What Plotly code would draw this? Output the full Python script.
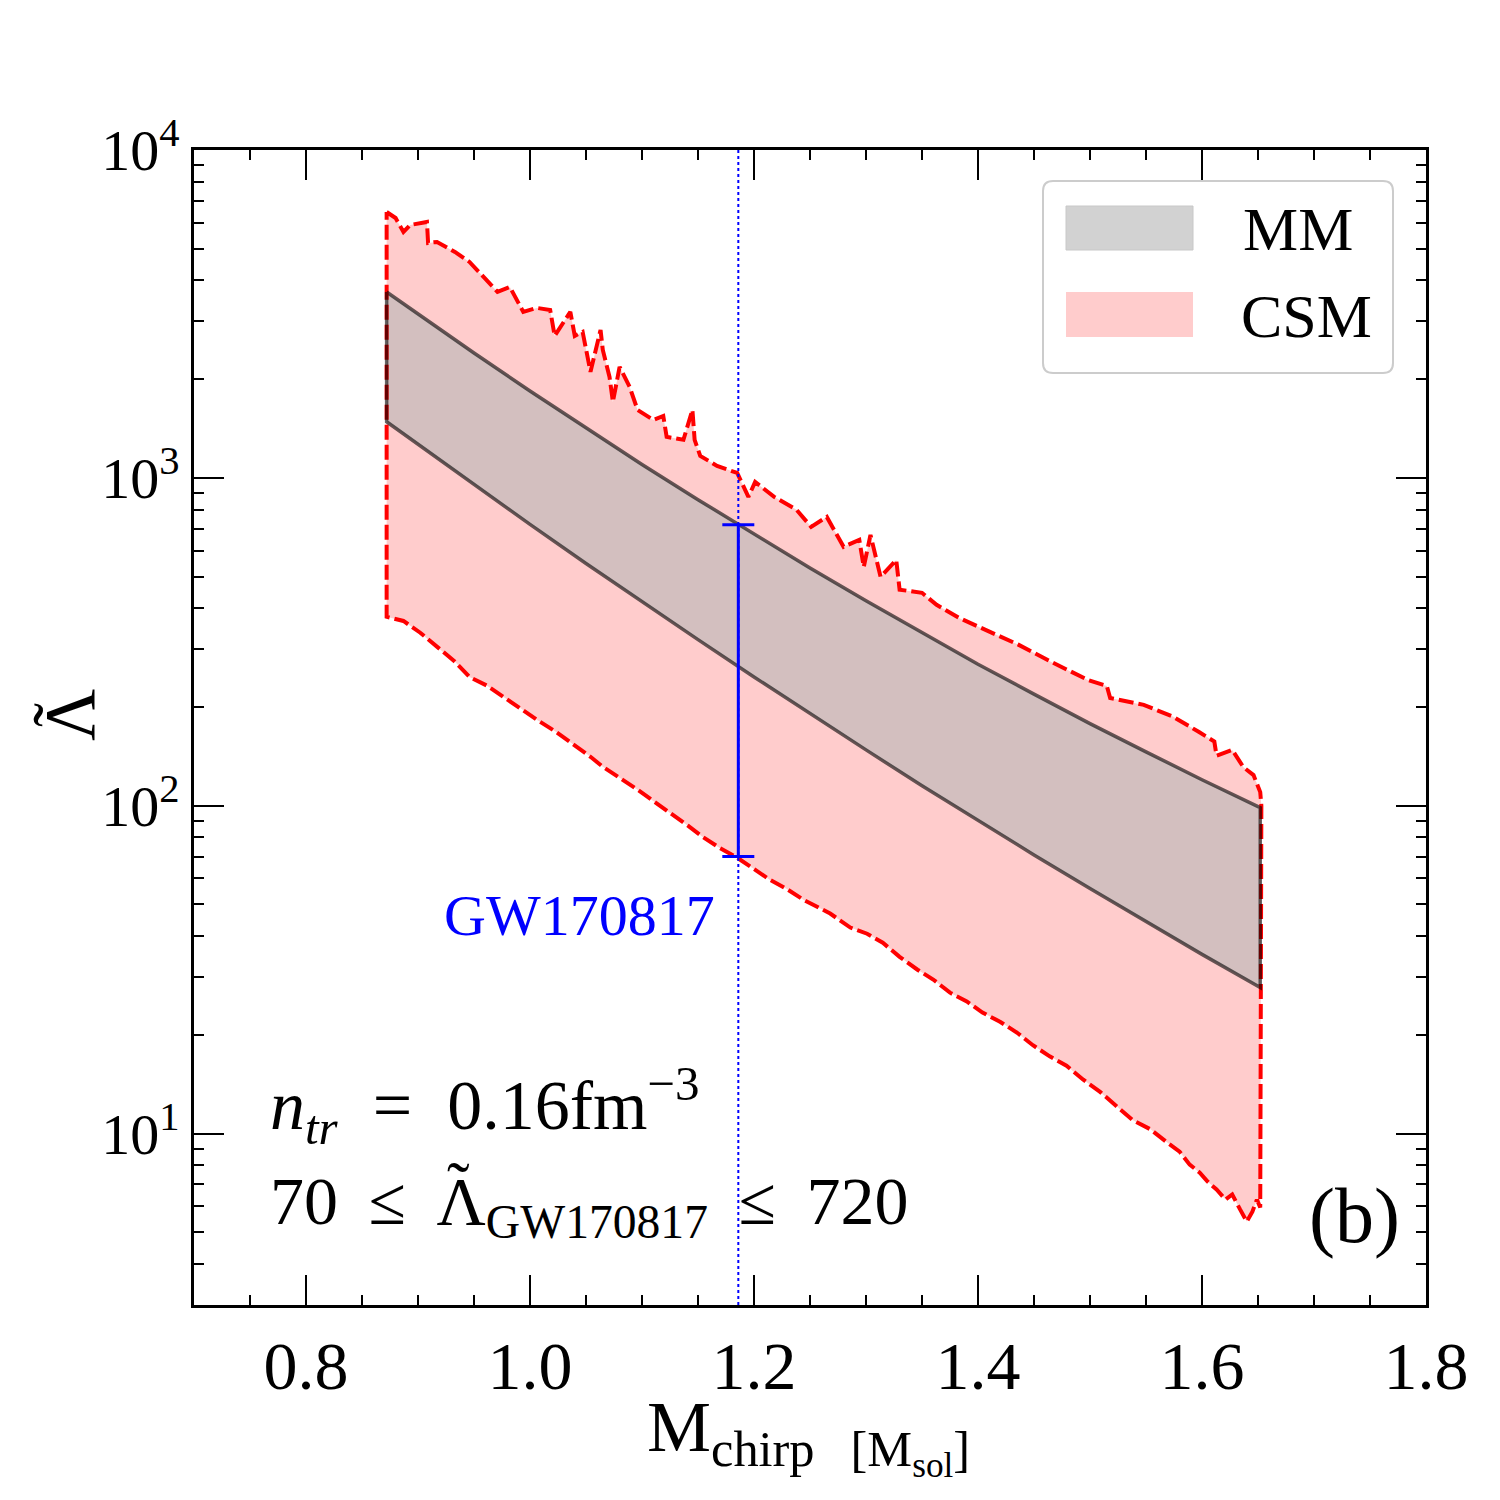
import math
import plotly.graph_objects as go

# ---------------- data ----------------
csm_upper_x = [0.872, 0.880, 0.887, 0.893, 0.908, 0.909, 0.917, 0.933, 0.946, 0.955,
               0.971, 0.982, 0.994, 1.006, 1.018, 1.022, 1.036, 1.040, 1.047, 1.054,
               1.063, 1.065, 1.071, 1.074, 1.080, 1.089, 1.096, 1.110, 1.119, 1.122,
               1.137, 1.145, 1.147, 1.152, 1.167, 1.185, 1.195, 1.201, 1.218, 1.238,
               1.251, 1.265, 1.280, 1.294, 1.298, 1.304, 1.313, 1.327, 1.330, 1.350,
               1.363, 1.383, 1.416, 1.436, 1.465, 1.498, 1.515, 1.518, 1.548, 1.574,
               1.597, 1.611, 1.613, 1.627, 1.637, 1.646, 1.652, 1.653]
csm_upper_y = [6471, 6204, 5623, 5906, 6033, 5206, 5242, 4887, 4556, 4217,
               3691, 3822, 3208, 3299, 3253, 2710, 3208, 2710, 2787, 2105,
               2826, 2456, 2032, 1705, 2180, 1894, 1612, 1502, 1545, 1334,
               1306, 1612, 1306, 1167, 1088, 1035, 875, 972, 875, 799,
               709, 760, 616, 647, 535, 670, 499, 562, 456, 446,
               410, 374, 332, 310, 275, 242, 232, 213, 203, 187,
               168, 157, 142, 148, 131, 124, 110, 100]

csm_lower_x = [0.872, 0.887, 0.902, 0.917, 0.933, 0.946, 0.962, 0.976, 0.991, 1.006,
               1.022, 1.036, 1.054, 1.065, 1.080, 1.096, 1.112, 1.125, 1.141, 1.154,
               1.169, 1.185, 1.201, 1.214, 1.229, 1.244, 1.268, 1.286, 1.301, 1.315,
               1.330, 1.346, 1.360, 1.375, 1.390, 1.404, 1.420, 1.435, 1.449, 1.464,
               1.479, 1.494, 1.509, 1.524, 1.538, 1.554, 1.569, 1.580, 1.589, 1.598,
               1.605, 1.613, 1.621, 1.627, 1.634, 1.640, 1.645, 1.649, 1.652]
csm_lower_y = [377, 366, 337, 305, 275, 247, 232, 215, 199, 183,
               169, 156, 141, 131.5, 121.7, 111.9, 102.1, 95.2, 86.9, 80.4,
               74.5, 69.4, 63.8, 59.5, 55.8, 51.7, 46.9, 42.5, 40.7, 38.2,
               34.6, 31.6, 29.5, 26.9, 25.3, 23.4, 21.9, 20.3, 18.6, 17.2,
               16.1, 14.6, 13.4, 12.1, 11.0, 10.3, 9.39, 8.81, 8.04, 7.60,
               7.14, 6.75, 6.29, 6.52, 5.87, 5.39, 5.78, 6.29, 5.95]

mm_x = [0.872, 0.95, 1.0, 1.05, 1.1, 1.15, 1.2, 1.25, 1.3, 1.35, 1.4, 1.45, 1.5, 1.55, 1.6, 1.652]
mm_upper = [3690, 2404, 1841, 1419, 1099, 858, 673, 531, 422, 337, 270, 219, 178, 146, 120, 98.6]
mm_lower = [1483, 953, 721, 548, 419, 321, 247, 191, 148, 115, 90.2, 70.8, 55.9, 44.2, 35.2, 27.9]

gw_mchirp = 1.186
gw_lambda_low = 70
gw_lambda_high = 720

x_tick_vals = [0.8, 1.0, 1.2, 1.4, 1.6, 1.8]
x_tick_text = ["0.8", "1.0", "1.2", "1.4", "1.6", "1.8"]
y_tick_vals = [10, 100, 1000, 10000]
y_tick_text = ["10<sup>1</sup>", "10<sup>2</sup>", "10<sup>3</sup>", "10<sup>4</sup>"]
y_minor_vals = [m * 10 ** k for k in range(0, 4) for m in range(2, 10) if m * 10 ** k >= 3]

legend_labels = ["MM", "CSM"]

FONT = "Liberation Serif"
ES = "\u2002"        # en space
SP = " \u2009"       # space + thin space

# ---------------- figure ----------------
W, H = 1500, 1500
ML, MR, MT, MB = 194, 74, 150, 195


def PX(x):
    return (x - ML) / (W - ML - MR)


def PY(y):
    return (H - MB - y) / (H - MT - MB)


csm_poly_x = csm_upper_x + csm_lower_x[::-1] + [csm_upper_x[0]]
csm_poly_y = csm_upper_y + csm_lower_y[::-1] + [csm_upper_y[0]]
mm_poly_x = mm_x + mm_x[::-1] + [mm_x[0]]
mm_poly_y = mm_upper + mm_lower[::-1] + [mm_upper[0]]

fig = go.Figure()

fig.add_trace(go.Scatter(x=csm_poly_x, y=csm_poly_y, mode="lines", fill="toself",
                         fillcolor="rgba(255,0,0,0.2)", line=dict(width=0),
                         hoverinfo="skip", showlegend=False))
fig.add_trace(go.Scatter(x=mm_poly_x, y=mm_poly_y, mode="lines", fill="toself",
                         fillcolor="rgba(181,181,181,0.6)", line=dict(width=0),
                         hoverinfo="skip", showlegend=False))
fig.add_trace(go.Scatter(x=csm_poly_x, y=csm_poly_y, mode="lines",
                         line=dict(color="rgb(255,0,0)", width=4, dash="15px,5px"),
                         hoverinfo="skip", showlegend=False))
fig.add_trace(go.Scatter(x=mm_poly_x, y=mm_poly_y, mode="lines",
                         line=dict(color="rgba(0,0,0,0.6)", width=3.5),
                         hoverinfo="skip", showlegend=False))

fig.add_trace(go.Scatter(x=[gw_mchirp], y=[gw_lambda_high], mode="markers",
                         marker=dict(size=1, opacity=0),
                         error_y=dict(type="data", symmetric=False, array=[0],
                                      arrayminus=[gw_lambda_high - gw_lambda_low],
                                      color="rgb(0,0,255)", thickness=3, width=16),
                         hoverinfo="skip", showlegend=False))

shapes = []
shapes.append(dict(type="line", xref="x", yref="paper", x0=gw_mchirp, x1=gw_mchirp, y0=0, y1=1,
                   line=dict(color="rgb(0,0,255)", width=2, dash="3px,3px"), layer="above"))

x0, y0, x1, y1, r = 1043, 181, 1393, 373, 10
path = (f"M {PX(x0 + r)},{PY(y0)} L {PX(x1 - r)},{PY(y0)} Q {PX(x1)},{PY(y0)} {PX(x1)},{PY(y0 + r)} "
        f"L {PX(x1)},{PY(y1 - r)} Q {PX(x1)},{PY(y1)} {PX(x1 - r)},{PY(y1)} "
        f"L {PX(x0 + r)},{PY(y1)} Q {PX(x0)},{PY(y1)} {PX(x0)},{PY(y1 - r)} "
        f"L {PX(x0)},{PY(y0 + r)} Q {PX(x0)},{PY(y0)} {PX(x0 + r)},{PY(y0)} Z")
shapes.append(dict(type="path", xref="paper", yref="paper", path=path,
                   fillcolor="rgba(255,255,255,0.8)", line=dict(color="rgb(204,204,204)", width=2),
                   layer="above"))
shapes.append(dict(type="rect", xref="paper", yref="paper", x0=PX(1066), x1=PX(1193),
                   y0=PY(250), y1=PY(206), fillcolor="rgb(210,210,210)",
                   line=dict(color="rgb(200,200,200)", width=1), layer="above"))
shapes.append(dict(type="rect", xref="paper", yref="paper", x0=PX(1066), x1=PX(1193),
                   y0=PY(337), y1=PY(292), fillcolor="rgb(255,204,204)",
                   line=dict(width=0), layer="above"))

annotations = []


def ann(text, x, y, size, xanchor="left", yanchor="middle", color="black", angle=0):
    annotations.append(dict(text=text, x=PX(x), y=PY(y), xref="paper", yref="paper",
                            xanchor=xanchor, yanchor=yanchor, showarrow=False,
                            textangle=angle, font=dict(family=FONT, size=size, color=color)))


ann(legend_labels[0], 1241, 229, 62)
ann(legend_labels[1], 1239, 316, 62)
ann("GW170817", 717, 916, 58, xanchor="right", color="rgb(0,0,255)")
ann(f"<i>n</i><sub><i>tr</i></sub>{ES}={ES}0.16fm<sup>−3</sup>", 268, 1105, 70)
ann(f"70{SP}≤{SP}Λ<sub>GW170817</sub>{SP}≤{SP}720", 268, 1205, 68)
ann("˜", 458, 1186, 68, xanchor="center")
ann("(b)", 1402, 1215, 78, xanchor="right")
ann("M<sub>chirp</sub>  <sub>[M<sub>sol</sub>]</sub>", 808, 1436, 72, xanchor="center")
ann("Λ", 70, 715, 72, xanchor="center", angle=-90)
ann("˜", 58, 715, 72, xanchor="center", angle=-90)

fig.update_layout(
    width=W, height=H,
    margin=dict(l=ML, r=MR, t=MT, b=MB, pad=0),
    paper_bgcolor="white", plot_bgcolor="white",
    showlegend=False,
    shapes=shapes, annotations=annotations,
    font=dict(family=FONT, color="black"),
)
fig.update_xaxes(
    range=[0.7, 1.8], tickmode="array", tickvals=x_tick_vals, ticktext=x_tick_text,
    ticks="inside", ticklen=30, tickwidth=2, tickcolor="black",
    showline=True, linecolor="black", linewidth=2.5, mirror="allticks",
    showgrid=False, zeroline=False,
    tickfont=dict(family=FONT, size=68, color="black"),
    minor=dict(ticks="inside", ticklen=10, tickwidth=1.5, tickcolor="black",
               tick0=0.7, dtick=0.05, showgrid=False),
)
fig.update_yaxes(
    type="log", range=[math.log10(3), 4], tickmode="array", tickvals=y_tick_vals, ticktext=y_tick_text,
    ticks="inside", ticklen=30, tickwidth=1.5, tickcolor="black",
    showline=True, linecolor="black", linewidth=2.5, mirror="allticks",
    showgrid=False, zeroline=False,
    tickfont=dict(family=FONT, size=58, color="black"),
    minor=dict(ticks="inside", ticklen=10, tickwidth=1.5, tickcolor="black",
               tickmode="array", tickvals=y_minor_vals, showgrid=False),
)

fig.write_html("out.html", config={"displayModeBar": False})
